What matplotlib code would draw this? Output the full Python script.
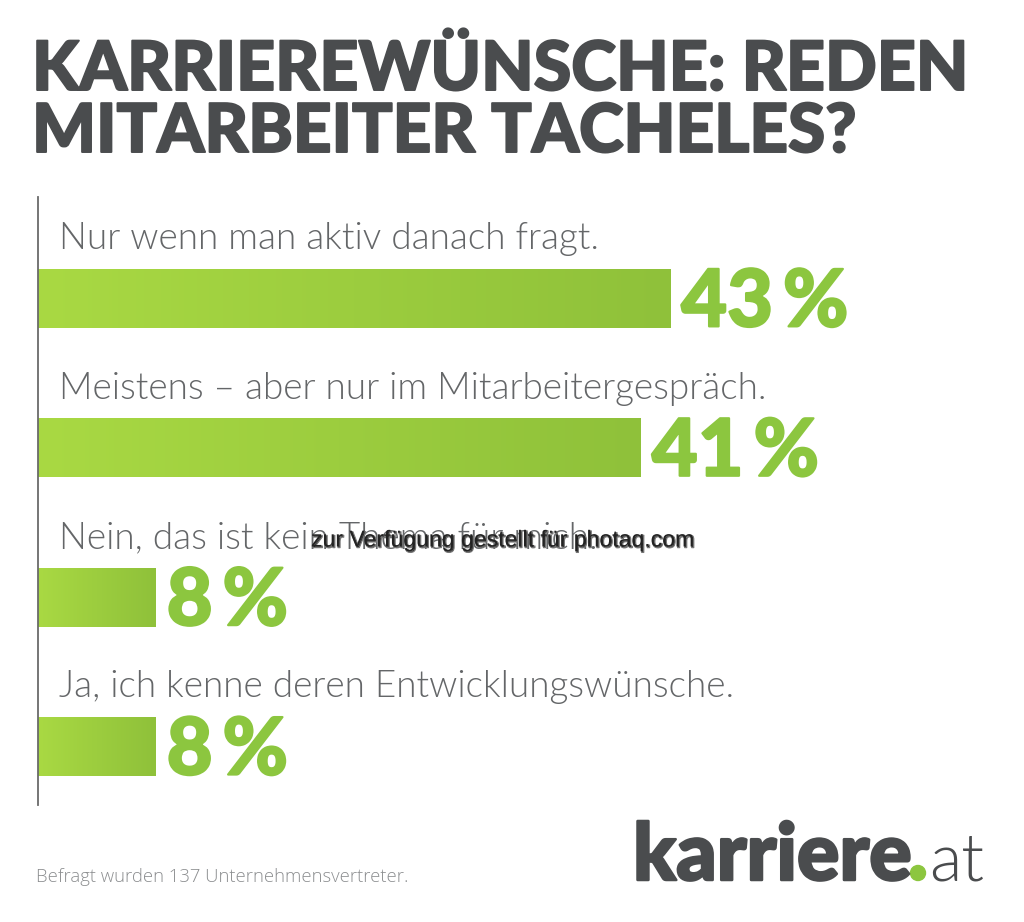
# -*- coding: utf-8 -*-
import numpy as np
import matplotlib
matplotlib.use('Agg')
import matplotlib.pyplot as plt
import matplotlib.patheffects as pe
from matplotlib.colors import LinearSegmentedColormap
from matplotlib.font_manager import FontProperties, fontManager
from matplotlib.patches import Ellipse

title_lines = ['KARRIEREWÜNSCHE: REDEN', 'MITARBEITER TACHELES?']
answers = ['Nur wenn man aktiv danach fragt.',
           'Meistens – aber nur im Mitarbeitergespräch.',
           'Nein, das ist kein Thema für mich.',
           'Ja, ich kenne deren Entwicklungswünsche.']
shares = [43, 41, 8, 8]
value_labels = ['43\u2009%', '41\u2009%', '8\u2009%', '8\u2009%']
footnote = 'Befragt wurden 137 Unternehmensvertreter.'
watermark = 'zur Verfügung gestellt für photaq.com'

W, H = 1024, 922
DARK = '#4a4c4e'
GREEN = '#8cc63f'
bar_cmap = LinearSegmentedColormap.from_list('bar', ['#a9d943', '#8fc13a'])


def font(style_name, size):
    # weight lookup lands on Hairline for light, so pick the file by name
    for f in fontManager.ttflist:
        if f.fname.endswith('Lato-%s.ttf' % style_name):
            return FontProperties(fname=f.fname, size=size)
    return FontProperties(family='Lato', size=size, weight='bold')


def heavy(color, width=1.4):
    # no black cut of the font here, thicken the bold one
    return [pe.withStroke(linewidth=width, foreground=color)]


fig = plt.figure(figsize=(W / 100, H / 100), dpi=100, facecolor='white')


def fig_text(x, y, s, **kw):
    # position in reference pixels, y counted from the top
    return fig.text(x / W, 1 - y / H, s, **kw)


# axes: x in percent, y in answer rows
ax = fig.add_axes([38 / W, 1 - 805 / H, (W - 38) / W, (805 - 197) / H])
ax.patch.set_alpha(0)
for side in ['top', 'right', 'bottom']:
    ax.spines[side].set_visible(False)
ax.spines['left'].set_color('#6a6a6a')
ax.spines['left'].set_linewidth(1.3)
ax.set_xticks([])
ax.set_yticks([])

rows = np.arange(len(shares))
bars = ax.barh(rows, shares, height=0.395, color='#9ccf3e', linewidth=0)
gradient = np.linspace(0, 1, 256).reshape(1, -1)
for bar, row, share, label, answer in zip(bars, rows, shares, value_labels, answers):
    img = ax.imshow(gradient, cmap=bar_cmap, aspect='auto', zorder=2,
                    extent=[0, share, row + 0.2, row - 0.2])
    img.set_clip_path(bar)
    ax.annotate(label, (share, row), xytext=(8, -20), textcoords='offset points',
                va='baseline', ha='left', fontproperties=font('Black', 57), color=GREEN,
                path_effects=heavy(GREEN, 1.6))
    ax.annotate(answer, (0, row), xytext=(15, 35.5), textcoords='offset points',
                va='baseline', ha='left', fontproperties=font('Light', 26.6), color='#646668')
ax.set_xlim(0, (W - 38) / 14.7)
ax.set_ylim(3.39, -0.68)

fig_text(32, 90, title_lines[0], fontproperties=font('Black', 49), color=DARK, va='baseline',
         path_effects=heavy(DARK))
fig_text(32, 152, title_lines[1], fontproperties=font('Black', 48.5), color=DARK, va='baseline',
         path_effects=heavy(DARK))

fig_text(36, 882, footnote, fontsize=13.3, family='Open Sans', fontweight='light',
         color='#8c8e90', va='baseline')

# logo
fig_text(633, 880, 'karriere', fontproperties=font('Black', 57), color=DARK, va='baseline',
         path_effects=heavy(DARK, 1.8))
fig_text(929, 880, 'at', fontproperties=font('Light', 48), color=DARK, va='baseline')
fig.add_artist(Ellipse((918 / W, 1 - 873 / H), 15 / W, 15 / H, color=GREEN,
                       transform=fig.transFigure))

fig_text(502, 540, watermark, fontsize=16.6, family='Liberation Sans', color='#222222',
         ha='center', va='center',
         path_effects=[pe.Stroke(linewidth=0.9, foreground='#777777', offset=(0.8, -0.8)),
                       pe.Normal()])

fig.savefig('out.png', dpi=100, facecolor='white')
